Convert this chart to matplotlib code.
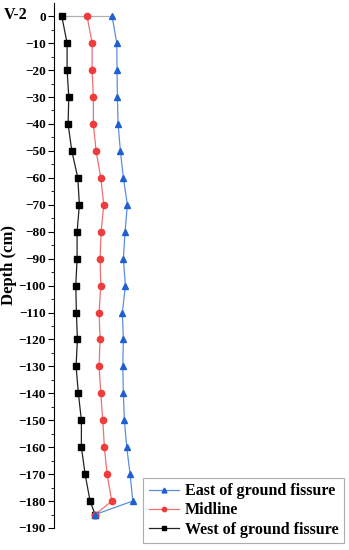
import matplotlib.pyplot as plt

depth = [0, -10, -20, -30, -40, -50, -60, -70, -80, -90, -100,
         -110, -120, -130, -140, -150, -160, -170, -180, -185]
west = [7.7, 13, 13, 14.7, 14, 17.7, 23.7, 25.3, 23, 23, 21.7,
        22.3, 23.3, 22, 24.3, 27.3, 27.3, 31, 36, 41]
midline = [33, 38, 38, 39.3, 39.3, 42, 46.7, 49.7, 47, 46, 46.7,
           45, 46, 45, 46.7, 48.7, 50.3, 53, 57.7, 41]
east = [58, 62.7, 63, 63.3, 64, 66.3, 69.3, 73.3, 71, 69.3, 71.3,
        68.3, 69.3, 68.7, 69.3, 70.3, 72.7, 76, 78.7, 41]

plt.rcParams['font.family'] = ['Liberation Serif', 'DejaVu Serif']

fig = plt.figure(figsize=(3.49, 5.5), dpi=100)
ax = fig.add_axes([0.155, 0.04, 0.845, 0.955])

ax.plot([west[0], east[0]], [depth[0], depth[0]], color='#b0b0b0', linewidth=0.9, zorder=1)
ax.plot(west, depth, marker='s', linestyle='-', linewidth=0.9, markersize=4.5,
        color='#222222', markerfacecolor='black', markeredgecolor='black', label='West of ground fissure')
ax.plot(midline, depth, marker='o', linestyle='-', linewidth=0.9, markersize=4.5,
        color='#f07070', markerfacecolor='#ee3b3b', markeredgecolor='#ee3b3b', label='Midline')
ax.plot(east, depth, marker='^', linestyle='-', linewidth=0.9, markersize=5,
        color='#5b8fe0', markerfacecolor='#1f5fd0', markeredgecolor='#1f5fd0', label='East of ground fissure')

ax.set_xlim(0, 295)
ax.set_ylim(-190, 5)
ax.set_yticks(range(-190, 1, 10))
ax.set_yticks(range(-185, 5, 10), minor=True)
ax.set_ylabel('Depth (cm)', fontsize=12, fontweight='bold', labelpad=1)

for s in ['top', 'right', 'bottom']:
    ax.spines[s].set_visible(False)
ax.spines['left'].set_linewidth(0.8)
ax.xaxis.set_visible(False)
ax.tick_params(axis='y', which='major', length=4, width=0.8, labelsize=9.5, pad=2)
ax.tick_params(axis='y', which='minor', length=2, width=0.6)
for t in ax.get_yticklabels():
    t.set_fontweight('bold')

fig.text(0.012, 0.972, 'V-2', fontsize=11.5, fontweight='bold', va='center', ha='left')

handles, labels = ax.get_legend_handles_labels()
leg = ax.legend(handles[::-1], labels[::-1], loc='lower right', bbox_to_anchor=(1.0, -0.038),
                prop={'weight': 'bold', 'size': 11.5}, frameon=True, fancybox=False,
                edgecolor='#999999', handlelength=1.9, handletextpad=0.35, borderpad=0.35,
                labelspacing=0.2, borderaxespad=0.3, markerscale=0.7)
leg.get_frame().set_linewidth(0.8)

fig.savefig('out.png', dpi=100)
